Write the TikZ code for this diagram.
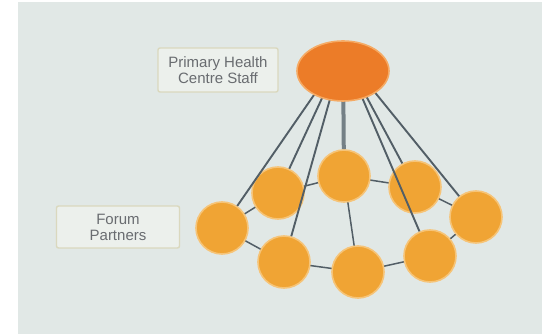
\documentclass[tikz,border=0pt]{standalone}
\usepackage{fontspec}
\setmainfont{Liberation Sans}
\usetikzlibrary{backgrounds,shapes.geometric}
\definecolor{bggray}{RGB}{225,232,230}
\definecolor{hubfill}{RGB}{236,124,40}
\definecolor{hubglow}{RGB}{245,170,100}
\definecolor{partfill}{RGB}{240,164,52}
\definecolor{partglow}{RGB}{246,196,120}
\definecolor{linkgray}{RGB}{82,94,102}
\definecolor{spokegray}{RGB}{116,128,134}
\definecolor{boxfill}{RGB}{236,240,236}
\definecolor{boxedge}{RGB}{218,216,190}
\definecolor{labeltext}{RGB}{105,108,112}
\tikzset{
  hub/.style={ellipse, fill=hubfill, draw=hubglow, line width=1.6pt,
    minimum width=92pt, minimum height=60pt, inner sep=0pt},
  partner/.style={circle, fill=partfill, draw=partglow, line width=1.6pt,
    minimum size=52pt, inner sep=0pt},
  tag/.style={rectangle, rounded corners=2pt, fill=boxfill, draw=boxedge,
    line width=1.4pt, text=labeltext, align=center,
    font=\fontsize{15}{16}\selectfont},
  spoke/.style={draw=linkgray, line width=1.9pt},
  mainspoke/.style={draw=spokegray, line width=4pt},
  ring/.style={draw=linkgray, line width=1.5pt},
}
\begin{document}
\begin{tikzpicture}[x=1pt,y=-1pt]
  \useasboundingbox (0,0) rectangle (542,334);

  % forum partners
  \node[partner] (c1) at (222,228) {};
  \node[partner] (c2) at (278,193) {};
  \node[partner] (c3) at (344,176) {};
  \node[partner] (c4) at (415,187) {};
  \node[partner] (c5) at (476,217) {};
  \node[partner] (c6) at (284,262) {};
  \node[partner] (c7) at (358,272) {};
  \node[partner] (c8) at (430,256) {};
  \coordinate (focus) at (343,53);

  % spokes run over the partners and end at each partner's rim
  \draw[spoke] (focus) -- (c1);
  \draw[spoke] (focus) -- (c2);
  \draw[spoke] (focus) -- (c6);
  \draw[spoke] (focus) -- (c8);
  \draw[spoke] (focus) -- (c4);
  \draw[spoke] (focus) -- (c5);
  \draw[mainspoke] (focus) -- (c3);

  % staff hub covers the spoke origins
  \node[hub] (staff) at (343,71) {};

  % labels
  \node[tag, minimum width=120pt, minimum height=44pt] (stafftag) at (218,70)
    {Primary Health\\Centre Staff};
  \node[tag, minimum width=123pt, minimum height=42pt] (forumtag) at (118,227)
    {Forum\\Partners};

  \begin{scope}[on background layer]
    \fill[white] (0,0) rectangle (542,334);
    \fill[bggray] (18,2) rectangle (542,334);
    % partner ring
    \draw[ring] (c1.center) -- (c2.center) -- (c3.center) -- (c4.center)
      -- (c5.center) -- (c8.center) -- (c7.center) -- (c6.center) -- (c1.center);
    \draw[ring] (c3.center) -- (c7.center);
  \end{scope}
\end{tikzpicture}
\end{document}
